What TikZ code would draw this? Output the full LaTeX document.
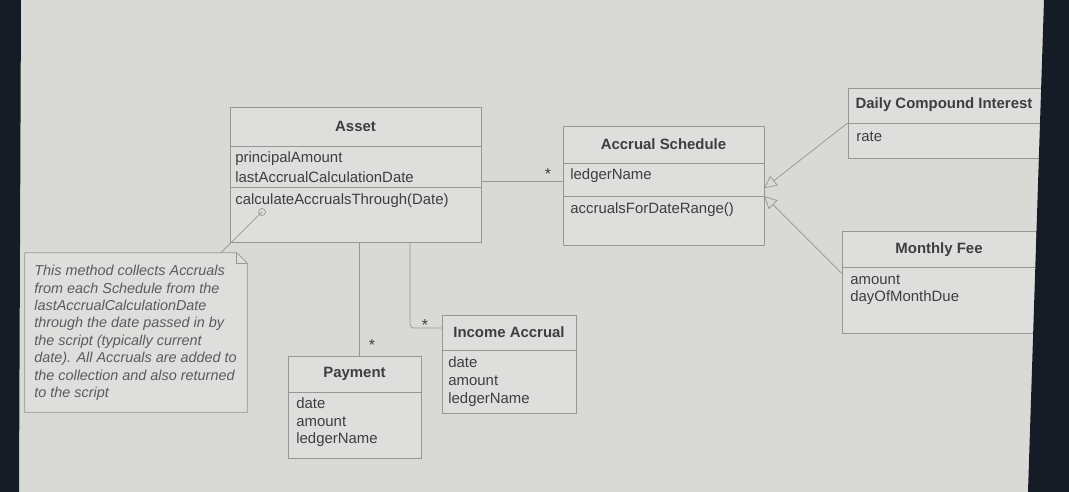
\documentclass[tikz,border=0pt]{standalone}
\usepackage{fontspec}
\setmainfont{Liberation Sans}
\usepackage{xcolor}
\usetikzlibrary{arrows.meta}

\definecolor{screen}{RGB}{217,218,214}
\definecolor{boxfill}{RGB}{222,223,220}
\definecolor{edge}{RGB}{150,150,148}
\definecolor{ink}{RGB}{62,62,64}
\definecolor{bezel}{RGB}{22,28,38}

\tikzset{
  umlbox/.style={draw=edge, fill=boxfill, inner sep=0pt},
  title/.style={font=\fontsize{8.5}{10}\selectfont\bfseries, text=ink, inner sep=0pt},
  member/.style={font=\fontsize{8.5}{10}\selectfont, text=ink, anchor=west, inner sep=0pt, align=left},
  mult/.style={font=\fontsize{9}{10}\selectfont, text=ink, inner sep=0pt},
  link/.style={draw=edge, thin},
}

\begin{document}
\begin{tikzpicture}[x=0.02cm, y=-0.02cm]
        \useasboundingbox (0,0) rectangle (1069,492);
        \fill[screen] (0,0) rectangle (1069,492);

        \node (asset)   at (355.5,174.5) [umlbox, minimum width=5.02cm, minimum height=2.7cm]  {};
        \node (sched)   at (663.5,185.5) [umlbox, minimum width=4.02cm, minimum height=2.38cm] {};
        \node (dci)     at (946.5,123)   [umlbox, minimum width=3.94cm, minimum height=1.4cm]  {};
        \node (fee)     at (939,282)     [umlbox, minimum width=3.88cm, minimum height=2.04cm] {};
        \node (payment) at (354.5,407)   [umlbox, minimum width=2.66cm, minimum height=2.04cm] {};
        \node (income)  at (509,364)     [umlbox, minimum width=2.68cm, minimum height=1.96cm] {};
        \node (note)    at (136,332.5)   [minimum width=4.44cm, minimum height=3.18cm, inner sep=0pt] {};

        \draw[link] (asset.west |- 0,146)   -- (asset.east |- 0,146);
        \draw[link] (asset.west |- 0,187)   -- (asset.east |- 0,187);
        \draw[link] (sched.west |- 0,163)   -- (sched.east |- 0,163);
        \draw[link] (sched.west |- 0,196)   -- (sched.east |- 0,196);
        \draw[link] (dci.west |- 0,123)     -- (dci.east |- 0,123);
        \draw[link] (fee.west |- 0,267)     -- (fee.east |- 0,267);
        \draw[link] (payment.west |- 0,392) -- (payment.east |- 0,392);
        \draw[link] (income.west |- 0,350)  -- (income.east |- 0,350);

        \draw[link, fill=boxfill] (note.south west) -- (note.north west) -- ([xshift=-6pt]note.north east)
            -- ([yshift=-6pt]note.north east) -- (note.south east) -- cycle;
        \draw[link] ([xshift=-6pt]note.north east) |- ([yshift=-6pt]note.north east);

        \node (assettitle)   at (asset.north |- 0,126)   [title] {Asset};
        \node (schedtitle)   at (sched.north |- 0,144)   [title] {Accrual Schedule};
        \node (dcititle)     at (944,105)                [title] {Daily Compound Interest};
        \node (feetitle)     at (fee.north |- 0,250)     [title] {Monthly Fee};
        \node (paymenttitle) at (payment.north |- 0,374) [title] {Payment};
        \node (incometitle)  at (income.north |- 0,332)  [title] {Income Accrual};

        \node (assetattr)   at (235,167) [member, font=\fontsize{8.5}{11.2}\selectfont] {principalAmount\\lastAccrualCalculationDate};
        \node (assetop)     at (235,201) [member] {calculateAccrualsThrough(Date)};
        \node (schedattr)   at (570,176) [member] {ledgerName};
        \node (schedop)     at (570,210) [member] {accrualsForDateRange()};
        \node (dciattr)     at (856,137) [member] {rate};
        \node (feeattr)     at (850,289.5) [member, font=\fontsize{8.5}{9.6}\selectfont] {amount\\dayOfMonthDue};
        \node (paymentattr) at (296,422.5) [member] {date\\amount\\ledgerName};
        \node (incomeattr)  at (448,381.5) [member, font=\fontsize{8.5}{10.4}\selectfont] {date\\amount\\ledgerName};

        \node (notetext) at (34,265) [anchor=north west, inner sep=0pt, align=left, text=ink!85,
            font=\fontsize{8.2}{9.9}\selectfont\itshape] {This method collects Accruals\\from each Schedule from the\\lastAccrualCalculationDate\\through the date passed in by\\the script (typically current\\date). All Accruals are added to\\the collection and also returned\\to the script};

        \coordinate (opanchor) at (262,212);
        \draw[link] ([xshift=-15pt]note.north east) -- (opanchor);
        \draw[link] (opanchor) circle (3.5);

        \draw[link] ([yshift=2.5pt]sched.west) -- ([yshift=2.5pt]sched.west -| asset.east);
        \draw[link] ([xshift=3pt]payment.north) -- ([xshift=3pt]payment.north |- asset.south);
        \coordinate (incbend) at (410,328);
        \draw[link, rounded corners=2pt] (asset.south -| incbend) -- (incbend) -- (incbend -| income.west);

        \node (multsched)   at (548,174) [mult] {*};
        \node (multpayment) at (372,345) [mult] {*};
        \node (multincome)  at (425,325) [mult] {*};

        \draw[link, -{Triangle[open, length=7pt, width=7pt]}] (dci.west)                  to ([yshift=-1.5pt]sched.east);
        \draw[link, -{Triangle[open, length=7pt, width=7pt]}] ([yshift=5pt]fee.west)      to ([yshift=-6pt]sched.east);

        \fill[bezel] (0,0) -- (21,0) -- (19,492) -- (0,492) -- cycle;
        \fill[bezel] (1044,0) -- (1069,0) -- (1069,492) -- (1028,492) -- cycle;
    \end{tikzpicture}
\end{document}
